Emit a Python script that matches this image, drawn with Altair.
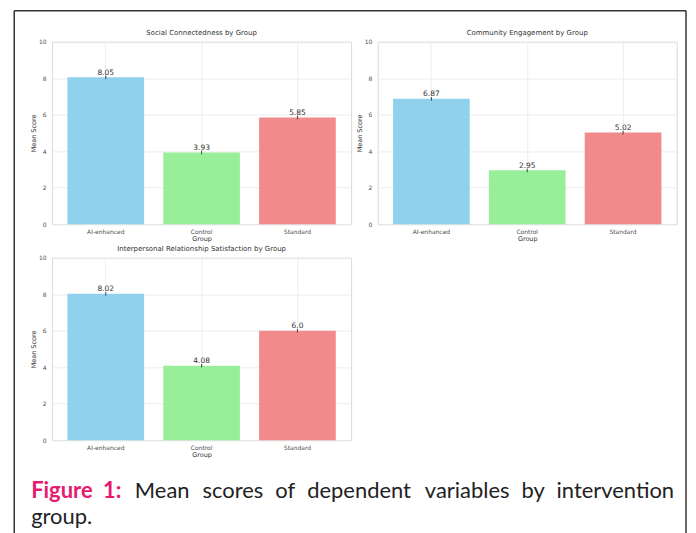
import altair as alt
import pandas as pd

groups = ["AI-enhanced", "Control", "Standard"]
bar_colors = ["skyblue", "lightgreen", "lightcoral"]
panel_titles = [
    "Social Connectedness by Group",
    "Community Engagement by Group",
    "Interpersonal Relationship Satisfaction by Group",
]
social = [8.05, 3.93, 5.85]
community = [6.87, 2.95, 5.02]
interpersonal = [8.02, 4.08, 6.0]
err_social = [0.1, 0.1, 0.1]
err_community = [0.1, 0.1, 0.1]
err_interpersonal = [0.1, 0.1, 0.1]
y_ticks = [0, 2, 4, 6, 8, 10]

caption_pink = ["Figure", "1:"]
caption_black = ["Mean", "scores", "of", "dependent", "variables", "by", "intervention"]
caption_line2 = "group."

FONT = "DejaVu Sans"
CAP_FONT = "Lato"

# page-pixel layout; the empty bottom-right cell (origin OX, OY) carries frame & caption
OX, OY = 377.7, 255.7
pink_x = [30, 102]
black_x = [134, 202, 275, 307, 425, 522, 675]
line1_y, line2_y = 497, 523
frame_left, frame_right, frame_top, frame_bottom = 13, 687, 8, 533


def panel(title, values, errs):
    df = pd.DataFrame({
        "Group": groups,
        "Mean": values,
        "lo": [v - e for v, e in zip(values, errs)],
        "hi": [v + e for v, e in zip(values, errs)],
        "label": [str(round(v, 2)) for v in values],
    })
    xscale = alt.Scale(domain=groups, paddingInner=0.2, paddingOuter=0.16)
    yscale = alt.Scale(domain=[0, 10], nice=False)
    xaxis = alt.Axis(title="Group", labelAngle=0, labelPadding=4, titlePadding=1,
                     grid=True, bandPosition=0.5)
    yaxis = alt.Axis(values=y_ticks, title="Mean Score", labelPadding=6, titlePadding=2,
                     labelOverlap=False, grid=True)
    x = alt.X("Group:N", sort=groups, scale=xscale, axis=xaxis)
    bars = alt.Chart(df).mark_bar(opacity=0.92).encode(
        x=x, y=alt.Y("Mean:Q", scale=yscale, axis=yaxis),
        color=alt.Color("Group:N", scale=alt.Scale(domain=groups, range=bar_colors), legend=None),
    )
    err = alt.Chart(df).mark_rule(color="#444444", strokeWidth=1).encode(
        x=x, y=alt.Y("lo:Q", scale=yscale, axis=yaxis), y2="hi:Q")
    txt = alt.Chart(df).mark_text(baseline="bottom", dy=-0.5, fontSize=7.5, color="#333333", font=FONT).encode(
        x=x, y=alt.Y("Mean:Q", scale=yscale, axis=yaxis), text="label:N")
    return alt.layer(bars, err, txt).properties(width=300, height=183, title=title)


one = pd.DataFrame({"k": [0]})

# frame lines (positions relative to the empty cell's origin)
left_rel = frame_left - OX
right_rel = frame_right - OX
top_rel = frame_top - OY
bottom_rel = frame_bottom - OY
rule = dict(color="#333333", strokeWidth=1.5)
frame = [
    alt.Chart(one).mark_rule(**rule).encode(
        x=alt.value(left_rel), x2=alt.value(left_rel), y=alt.value(top_rel), y2=alt.value(bottom_rel)),
    alt.Chart(one).mark_rule(**rule).encode(
        x=alt.value(right_rel), x2=alt.value(right_rel), y=alt.value(top_rel), y2=alt.value(bottom_rel)),
    alt.Chart(one).mark_rule(**rule).encode(
        x=alt.value(left_rel), x2=alt.value(right_rel), y=alt.value(top_rel), y2=alt.value(top_rel)),
]

caption = []
for w, px in zip(caption_pink, pink_x):
    caption.append(alt.Chart(one).mark_text(
        align="left", baseline="alphabetic", font=CAP_FONT, fontSize=22, fontWeight="bold", color="#E8196E"
    ).encode(x=alt.value(px - OX), y=alt.value(line1_y - OY), text=alt.value(w)))
for i, (w, px) in enumerate(zip(caption_black, black_x)):
    last = i == len(caption_black) - 1
    caption.append(alt.Chart(one).mark_text(
        align="right" if last else "left", baseline="alphabetic", font=CAP_FONT, fontSize=22, color="#222222"
    ).encode(x=alt.value(px - OX), y=alt.value(line1_y - OY), text=alt.value(w)))
caption.append(alt.Chart(one).mark_text(
    align="left", baseline="alphabetic", font=CAP_FONT, fontSize=22, color="#222222"
).encode(x=alt.value(30 - OX), y=alt.value(line2_y - OY), text=alt.value(caption_line2)))

p1 = panel(panel_titles[0], social, err_social)
p2 = panel(panel_titles[1], community, err_community)
p3 = panel(panel_titles[2], interpersonal, err_interpersonal)
p4 = alt.layer(*frame, *caption).properties(
    width=300, height=183, view=alt.ViewBackground(stroke="transparent"))

chart = alt.concat(
    p1, p2, p3, p4, columns=2, spacing={"row": 33.7, "column": 26.7}, bounds="flush"
).properties(
    padding={"left": 4.25, "top": 0, "right": 0, "bottom": 0}
).configure_view(
    stroke="#d9d9d9", strokeWidth=1
).configure_axis(
    labelFont=FONT, titleFont=FONT, labelColor="#4d4d4d", titleColor="#333333",
    labelFontSize=6, titleFontSize=6.5, titleFontWeight="normal",
    ticks=False, domain=False, gridColor="#e8e8e8", gridWidth=0.8,
).configure_title(
    font=FONT, fontSize=7, fontWeight="normal", color="#333333", offset=3, anchor="middle"
)

chart.save("out.html", embed_options={"renderer": "svg", "actions": False})
